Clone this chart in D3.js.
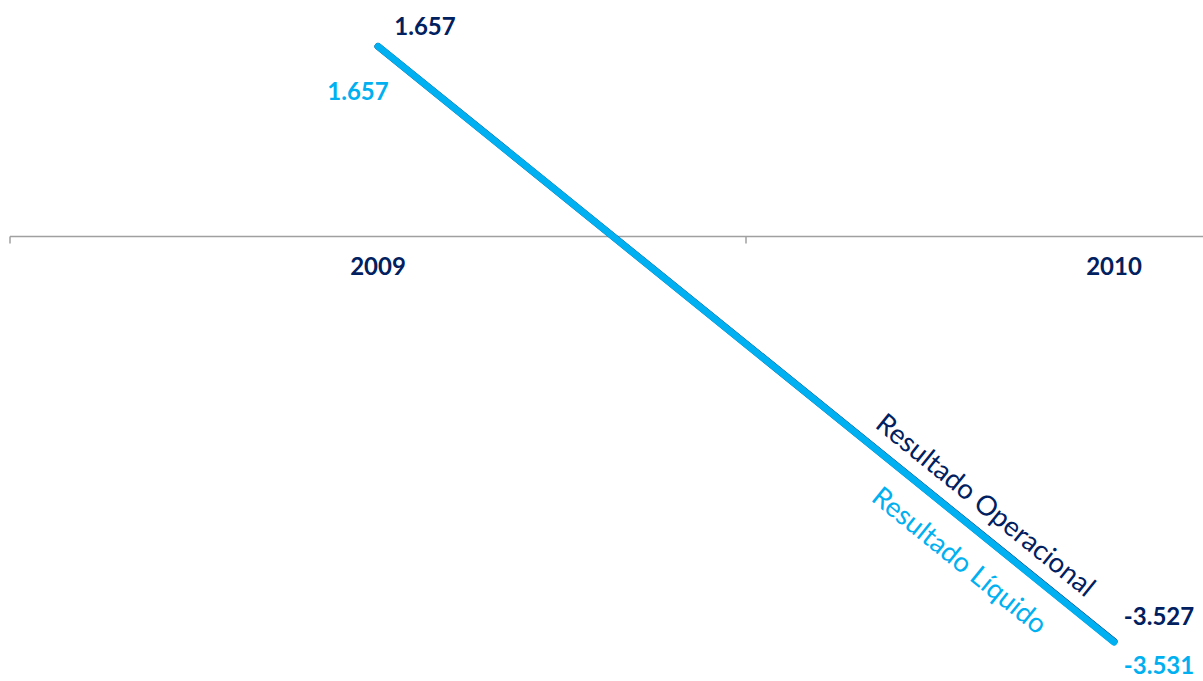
<!DOCTYPE html>
<meta charset="utf-8">
<script src="https://d3js.org/d3.v7.min.js"></script>
<style>
  body { margin: 0; background: #fff; }
  svg { display: block; }
</style>
<body>
<script>

var width = 1203
var height = 681

// data
var years = ["2009", "2010"]
var operacional = [1657, -3527]
var liquido = [1657, -3531]
var seriesNames = ["Resultado Operacional", "Resultado Líquido"]

var navy = "#002060"
var light = "#00b0f0"

var x = d3.scaleBand().domain(years).range([10, 1482]).padding(0)
var y = d3.scaleLinear().domain([-4000, 2000]).range([695.8, 7])

var svg = d3.select("body").append("svg")
            .attr("width", width)
            .attr("height", height)

// axis (category ticks at band edges, like a spreadsheet chart)
var y0 = y(0)
var axis = svg.append("g").attr("id", "axis")
axis.append("line")
    .attr("x1", x.range()[0]).attr("x2", x.range()[1])
    .attr("y1", y0).attr("y2", y0)
    .style("stroke", "#a0a0a0")
    .style("stroke-width", 1.5)

var edges = years.map(d => x(d)).concat([x(years[years.length - 1]) + x.step()])
axis.selectAll(".tick").data(edges).enter().append("line")
    .attr("class", "tick")
    .attr("x1", d => d).attr("x2", d => d)
    .attr("y1", y0).attr("y2", y0 + 7)
    .style("stroke", "#a0a0a0")
    .style("stroke-width", 1.5)

axis.selectAll(".ylab").data(years).enter().append("text")
    .attr("class", "ylab")
    .attr("x", d => x(d) + x.bandwidth() / 2)
    .attr("y", 275)
    .style("text-anchor", "middle")
    .style("font-family", "Lato, sans-serif")
    .style("font-weight", "bold")
    .style("font-size", "24px")
    .style("fill", navy)
    .text(d => d)

function cx(d) { return x(d) + x.bandwidth() / 2 }

var line = d3.line()
    .x((d, i) => cx(years[i]))
    .y(d => y(d))

function drawSeries(values, color) {
  svg.append("path")
     .datum(values)
     .attr("d", line)
     .style("fill", "none")
     .style("stroke", color)
     .style("stroke-width", 7)
     .style("stroke-linecap", "round")
}

drawSeries(operacional, navy)
drawSeries(liquido, light)

// 1.657 style, plain hyphen for negatives
function fmt(v) { return d3.format(",")(v).replace(/,/g, ".").replace("\u2212", "-") }

function valueLabels(values, color, offsets) {
  svg.append("g").selectAll("text").data(values).enter().append("text")
     .attr("x", (d, i) => cx(years[i]) + offsets[i][0])
     .attr("y", (d, i) => y(d) + offsets[i][1])
     .style("text-anchor", "middle")
     .style("font-family", "Lato, sans-serif")
     .style("font-weight", "bold")
     .style("font-size", "24px")
     .style("fill", color)
     .text(d => fmt(d))
}

valueLabels(operacional, navy, [[47, -11], [45, -16]])
valueLabels(liquido, light, [[-20, 54], [45, 32]])

// series names written along the line
function seriesLabel(values, color, name, f, dy) {
  var x1 = cx(years[0]), y1 = y(values[0])
  var x2 = cx(years[1]), y2 = y(values[1])
  var ang = Math.atan2(y2 - y1, x2 - x1) * 180 / Math.PI
  var px = x1 + (x2 - x1) * f
  var py = y1 + (y2 - y1) * f
  svg.append("text")
     .attr("transform", "translate(" + px + "," + py + ") rotate(" + ang + ")")
     .attr("dy", dy)
     .style("text-anchor", "middle")
     .style("font-family", "Lato, sans-serif")
     .style("font-size", "27.5px")
     .style("fill", color)
     .text(name)
}

seriesLabel(operacional, navy, seriesNames[0], 0.804, -16)
seriesLabel(liquido, light, seriesNames[1], 0.819, 43)

</script>
</body>
